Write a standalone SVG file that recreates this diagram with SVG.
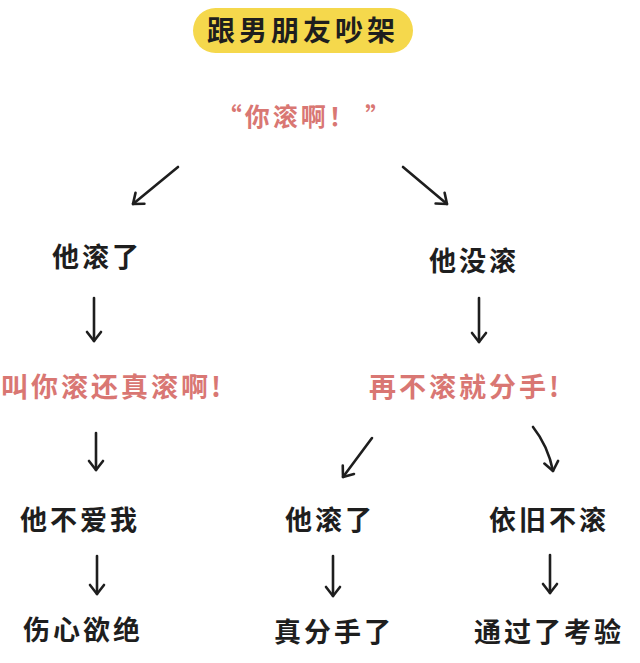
<svg xmlns="http://www.w3.org/2000/svg" width="640" height="663" viewBox="0 0 640 663">
<defs>
<style>
.t{font-family:"Noto Sans CJK SC","Noto Sans",sans-serif;font-weight:700;dominant-baseline:central}
.k{fill:#1e1e1e;font-size:27px;letter-spacing:3px;text-anchor:middle}
.p{fill:#d97773;font-size:27px;letter-spacing:3px}
.c{fill:none;stroke:#1e1e1e;stroke-width:2.6;stroke-linecap:round;stroke-linejoin:round}
</style>
<marker id="ah" markerUnits="userSpaceOnUse" markerWidth="24" markerHeight="24" viewBox="-12 -12 24 24" refX="0" refY="0" orient="auto">
<path d="M-9,-7 L0,0 L-9,7" fill="none" stroke="#1e1e1e" stroke-width="2.6" stroke-linecap="round" stroke-linejoin="round"/>
</marker>
</defs>
<rect width="640" height="663" fill="#ffffff"/>
<g id="title">
<rect x="193" y="8" width="220" height="45" rx="22.5" fill="#f5d84c"/>
<text class="t k" x="303" y="29" style="letter-spacing:4px;font-size:28px">跟男朋友吵架</text>
</g>
<g id="root">
<text class="t p" x="305" y="115" text-anchor="middle" style="font-size:25px">“你滚啊！ ”</text>
</g>
<g id="left1"><text class="t k" x="97" y="255">他滚了</text></g>
<g id="right1"><text class="t k" x="474" y="259">他没滚</text></g>
<g id="left2"><text class="t p" x="1" y="385">叫你滚还真滚啊!</text></g>
<g id="right2"><text class="t p" x="369" y="385">再不滚就分手!</text></g>
<g id="left3"><text class="t k" x="80" y="518">他不爱我</text></g>
<g id="mid3"><text class="t k" x="330" y="518">他滚了</text></g>
<g id="right3"><text class="t k" x="549" y="518">依旧不滚</text></g>
<g id="left4"><text class="t k" x="83" y="628">伤心欲绝</text></g>
<g id="mid4"><text class="t k" x="334" y="630">真分手了</text></g>
<g id="right4"><text class="t k" x="549" y="630">通过了考验</text></g>
<g id="connectors" class="c">
<path d="M178,167 L133,204" marker-end="url(#ah)"/>
<path d="M403,167 L447,204" marker-end="url(#ah)"/>
<path d="M94,298 L94,341" marker-end="url(#ah)"/>
<path d="M479,298 L479,342" marker-end="url(#ah)"/>
<path d="M96,433 L96,470" marker-end="url(#ah)"/>
<path d="M372,438 L343,477" marker-end="url(#ah)"/>
<path d="M533,427 Q548,446 553,471" marker-end="url(#ah)"/>
<path d="M97,556 L97,594" marker-end="url(#ah)"/>
<path d="M333,556 L333,596" marker-end="url(#ah)"/>
<path d="M550,555 L550,593" marker-end="url(#ah)"/>
</g>
</svg>
